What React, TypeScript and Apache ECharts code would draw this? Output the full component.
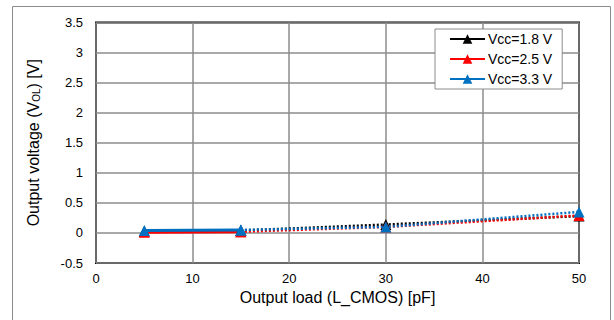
import React, { useEffect, useRef } from "react";
import * as echarts from "echarts";

const loads = [5, 15, 30, 50];
const v18 = [0.03, 0.04, 0.14, 0.28];
const v25 = [0.01, 0.02, 0.1, 0.29];
const v33 = [0.04, 0.05, 0.1, 0.35];
const seriesNames = ["Vcc=1.8 V", "Vcc=2.5 V", "Vcc=3.3 V"];
const seriesColors = ["#000000", "#FF0000", "#0070C0"];
const seriesValues = [v18, v25, v33];
const measuredCount = 2; // solid up to 15 pF, dotted afterwards

const FONT = "Liberation Sans, Arial, sans-serif";

export default function App() {
  const ref = useRef<HTMLDivElement>(null);
  useEffect(() => {
    if (!ref.current) return;
    const chart = echarts.init(ref.current, null, { renderer: "svg" });
    const series: any[] = [];
    seriesValues.forEach((vals, i) => {
      const pts = loads.map((x, j) => [x, vals[j]]);
      series.push({
        name: seriesNames[i] + " (trend)",
        type: "line",
        data: pts.slice(measuredCount - 1),
        symbol: "triangle",
        symbolSize: 11,
        color: seriesColors[i],
        lineStyle: { width: 2.5, type: [2, 2], color: seriesColors[i] },
        itemStyle: { color: seriesColors[i] },
        z: 2 + i,
      });
      series.push({
        name: seriesNames[i],
        type: "line",
        data: pts.slice(0, measuredCount),
        symbol: "triangle",
        symbolSize: 11,
        color: seriesColors[i],
        lineStyle: { width: 3, type: "solid", color: seriesColors[i] },
        itemStyle: { color: seriesColors[i] },
        z: 2 + i,
      });
    });
    chart.setOption({
      animation: false,
      textStyle: { fontFamily: FONT },
      graphic: [
        {
          type: "rect",
          shape: { x: 12.5, y: 6.5, width: 598, height: 330 },
          style: { fill: "none", stroke: "#8c8c8c", lineWidth: 1 },
          silent: true,
          z: -10,
        },
      ],
      grid: {
        left: 96,
        right: 35,
        top: 22.5,
        bottom: 57,
        show: true,
        borderColor: "#000",
        borderWidth: 2,
        containLabel: false,
      },
      legend: {
        data: seriesNames,
        orient: "vertical",
        left: 435,
        top: 29,
        backgroundColor: "#fff",
        borderColor: "#8c8c8c",
        borderWidth: 1,
        borderRadius: 0,
        padding: [3, 10, 3, 14],
        itemGap: 6,
        itemWidth: 35,
        itemHeight: 12,
        textStyle: { fontFamily: FONT, fontSize: 14, color: "#000", padding: [0, 0, 0, -2] },
      },
      xAxis: {
        type: "value",
        min: 0,
        max: 50,
        interval: 10,
        name: "Output load (L_CMOS) [pF]",
        nameLocation: "middle",
        nameGap: 22,
        nameTextStyle: { fontFamily: FONT, fontSize: 16, color: "#000" },
        axisLine: { show: false, onZero: false },
        axisTick: { show: false },
        axisLabel: { fontFamily: FONT, fontSize: 13, color: "#000", margin: 9 },
        splitLine: { show: true, lineStyle: { color: "#8c8c8c", width: 1.5 } },
      },
      yAxis: {
        type: "value",
        min: -0.5,
        max: 3.5,
        interval: 0.5,
        name: "Output voltage (V{sub|OL}) [V]",
        nameLocation: "middle",
        nameGap: 55,
        nameRotate: 90,
        nameTextStyle: {
          fontFamily: FONT,
          fontSize: 16,
          color: "#000",
          rich: {
            sub: { fontFamily: FONT, fontSize: 10, color: "#000", padding: [6, 0, 0, 0] },
          },
        },
        axisLine: { show: false },
        axisTick: { show: false },
        axisLabel: { fontFamily: FONT, fontSize: 13, color: "#000", margin: 13 },
        splitLine: { show: true, lineStyle: { color: "#8c8c8c", width: 1.5 } },
      },
      series,
    });
    return () => chart.dispose();
  }, []);
  return (
    <div
      ref={ref}
      style={{ position: "fixed", left: 0, top: 0, width: 614, height: 320, background: "#fff" }}
    />
  );
}
